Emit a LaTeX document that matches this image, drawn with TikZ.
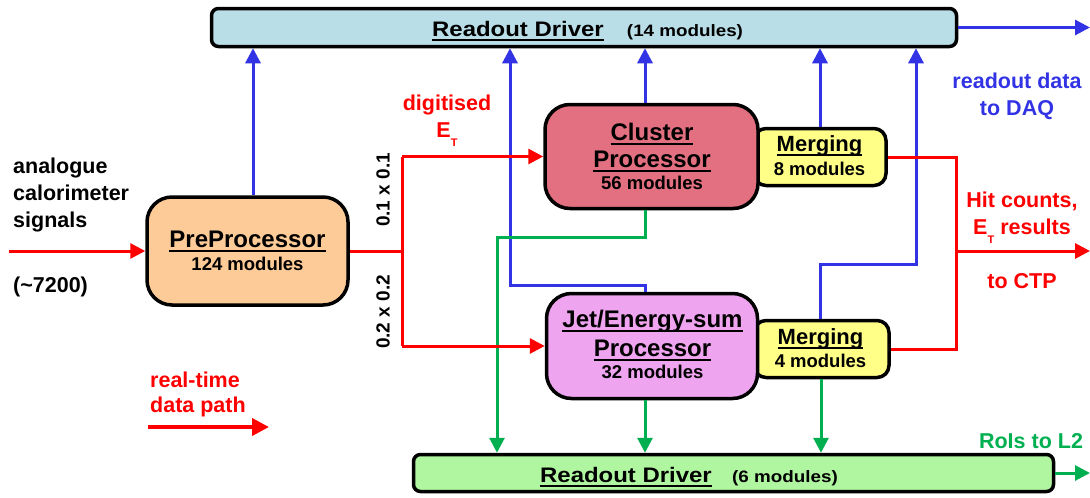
\documentclass[tikz,border=0pt]{standalone}
\usepackage{fontspec}
\setmainfont{Liberation Sans}
\newfontfamily\widefont[FakeStretch=1.14]{Liberation Sans}
\usetikzlibrary{arrows.meta}
\newcommand{\ulx}[1]{\setbox0=\hbox{#1}\rlap{\rule[-4.5pt]{\wd0}{1.8pt}}\box0}
\definecolor{rdblue}{RGB}{185,222,232}
\definecolor{ppfill}{RGB}{253,203,152}
\definecolor{cpfill}{RGB}{226,112,128}
\definecolor{jepfill}{RGB}{238,164,238}
\definecolor{mfill}{RGB}{255,255,136}
\definecolor{rgreen}{RGB}{176,246,160}
\definecolor{lblue}{RGB}{51,51,230}
\definecolor{lred}{RGB}{255,0,0}
\definecolor{lgreen}{RGB}{0,176,80}
\tikzset{
  box/.style={draw=black, line width=3.5pt, inner sep=0pt, rectangle},
  lbl/.style={anchor=base, inner sep=0pt, font=\bfseries\fontsize{21.5}{24}\selectfont},
  title/.style={anchor=base, inner sep=0pt, font=\bfseries\fontsize{24}{28}\selectfont},
  mtitle/.style={anchor=base, inner sep=0pt, font=\bfseries\fontsize{22}{26}\selectfont},
  mods/.style={anchor=base, inner sep=0pt, font=\bfseries\fontsize{18.5}{22}\selectfont},
  rdtitle/.style={anchor=base, inner sep=0pt, font=\widefont\bfseries\fontsize{21}{24}\selectfont},
  rdmods/.style={anchor=base, inner sep=0pt, font=\widefont\bfseries\fontsize{16.5}{20}\selectfont},
  tip/.style={-{Triangle[length=15pt,width=15pt]}},
  bline/.style={draw=lblue, line width=3pt},
  rline/.style={draw=lred, line width=3pt},
  gline/.style={draw=lgreen, line width=3pt},
}
\begin{document}
\begin{tikzpicture}[x=1pt,y=-1pt]
\useasboundingbox (0,0) rectangle (1090,498);

% boxes
\node[box, fill=rdblue, rounded corners=7pt, minimum width=745pt, minimum height=38pt] (rodtop) at (584,27.5) {};
\node[box, fill=ppfill, rounded corners=25pt, minimum width=201pt, minimum height=108pt] (pp) at (247.5,251) {};
\node[box, fill=mfill, rounded corners=12pt, minimum width=132pt, minimum height=57pt] (m8) at (820,157) {};
\node[box, fill=cpfill, rounded corners=25pt, minimum width=213pt, minimum height=104pt] (cp) at (651.5,156.5) {};
\node[box, fill=mfill, rounded corners=12pt, minimum width=135pt, minimum height=57pt] (m4) at (821.5,349) {};
\node[box, fill=jepfill, rounded corners=25pt, minimum width=211pt, minimum height=105pt] (jep) at (652,346) {};
\node[box, fill=rgreen, rounded corners=7pt, minimum width=640pt, minimum height=37pt] (rodbot) at (733.5,473) {};

% box texts
\node[rdtitle] (rdtopa) at (518,36) {\ulx{Readout Driver}};
\node[rdmods] (rdtopb) at (685,36) {(14 modules)};
\node[title] (ppa) at (247.5,247) {\ulx{PreProcessor}};
\node[mods] (ppb) at (247.5,270) {124 modules};
\node[title] (cpa) at (652,140) {\ulx{Cluster}};
\node[title] (cpb) at (652,167) {\ulx{Processor}};
\node[mods] (cpc) at (652,189) {56 modules};
\node[mtitle] (m8a) at (819.5,151) {\ulx{Merging}};
\node[mods] (m8b) at (819.5,175) {8 modules};
\node[title] (jepa) at (652.5,327) {\ulx{Jet/Energy-sum}};
\node[title] (jepb) at (652.5,356) {\ulx{Processor}};
\node[mods] (jepc) at (652.5,378) {32 modules};
\node[mtitle] (m4a) at (820.5,344) {\ulx{Merging}};
\node[mods] (m4b) at (820.5,367) {4 modules};
\node[rdtitle] (rdbota) at (626,482) {\ulx{Readout Driver}};
\node[rdmods] (rdbotb) at (785,482) {(6 modules)};

% labels
\node[lbl, anchor=base west] (la1) at (13,173) {analogue};
\node[lbl, anchor=base west] (la2) at (13,200) {calorimeter};
\node[lbl, anchor=base west] (la3) at (13,227) {signals};
\node[lbl, anchor=base west] (la4) at (13,292) {(\char"007E 7200)};
\node[lbl, anchor=base west, text=lred] (lr1) at (150,387) {real-time};
\node[lbl, anchor=base west, text=lred] (lr2) at (150,412) {data path};
\node[lbl, text=lred] (dg1) at (447,110) {digitised};
\node[lbl, text=lred] (dg2) at (447,137) {E\raisebox{-9pt}{\fontsize{11}{11}\selectfont T}};
\node[lbl, rotate=90, anchor=center, font=\bfseries\fontsize{19}{22}\selectfont] (g1) at (383,190) {0.1 x 0.1};
\node[lbl, rotate=90, anchor=center, font=\bfseries\fontsize{19}{22}\selectfont] (g2) at (383,312) {0.2 x 0.2};
\node[lbl, text=lblue] (dq1) at (1017,88) {readout data};
\node[lbl, text=lblue] (dq2) at (1017,115) {to DAQ};
\node[lbl, text=lred] (hc1) at (1022,207) {Hit counts,};
\node[lbl, text=lred] (hc2) at (1022,234) {E\raisebox{-9pt}{\fontsize{11}{11}\selectfont T} results};
\node[lbl, text=lred] (hc3) at (1022,288) {to CTP};
\node[lbl, text=lgreen] (roi) at (1031,448) {RoIs to L2};

% coordinates
\coordinate (inp) at (9,251);
\coordinate (daq) at (1090,27.5);
\coordinate (ctp) at (1090,251);
\coordinate (l2) at (1090,473);
\coordinate (lgA) at (148,427);
\coordinate (lgB) at (269,427);

% blue readout paths
\draw[bline, tip] (253,0 |- pp.north) -- (253,0 |- rodtop.south);
\draw[bline, tip] (645,0 |- jep.north) |- (510,285) -- (510,0 |- rodtop.south);
\draw[bline, tip] (645,0 |- cp.north) -- (645,0 |- rodtop.south);
\draw[bline, tip] (820,0 |- m8.north) -- (820,0 |- rodtop.south);
\draw[bline, tip] (820,0 |- m4.north) |- (916,264) -- (916,0 |- rodtop.south);
\draw[bline, tip] (rodtop.east) -- (daq);

% green RoI paths
\draw[gline, tip] (645,0 |- cp.south) |- (497,237) -- (497,0 |- rodbot.north);
\draw[gline, tip] (645,0 |- jep.south) -- (645,0 |- rodbot.north);
\draw[gline, tip] (821,0 |- m4.south) -- (821,0 |- rodbot.north);
\draw[gline, tip] (rodbot.east) -- (l2);

% red real-time paths
\draw[rline, tip] (inp) -- (pp.west);
\draw[rline] (pp.east) -- (402,0 |- pp.east);
\draw[rline] (cp.west -| 402,0) -- (jep.west -| 402,0);
\draw[rline, tip] (cp.west -| 402,0) -- (cp.west);
\draw[rline, tip] (jep.west -| 402,0) -- (jep.west);
\draw[rline] (m8.east) -- (956,0 |- m8.east) -- (956,0 |- m4.east) -- (m4.east);
\draw[rline, tip] (956,251) -- (ctp);
\draw[rline, line width=4pt, -{Triangle[length=17pt,width=17pt]}] (lgA) -- (lgB);
\end{tikzpicture}
\end{document}
